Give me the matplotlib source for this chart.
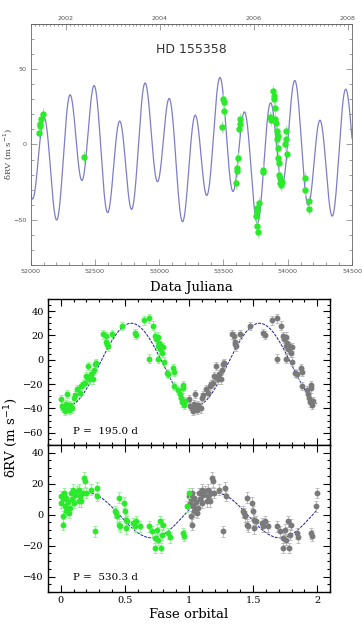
import numpy as np
import matplotlib
matplotlib.use('Agg')
import matplotlib.pyplot as plt
from matplotlib.ticker import MultipleLocator

# --- top panel: RV vs JD-2400000 ---
top_jd = [52065, 52072, 52075, 52080, 52092, 52418, 53491, 53499, 53503, 53505,
          53596, 53604, 53608, 53615, 53623, 53627, 53631, 53752, 53757, 53760,
          53763, 53770, 53778, 53806, 53810, 53865, 53872, 53888, 53892, 53896,
          53900, 53904, 53908, 53913, 53918, 53922, 53926, 53928, 53931, 53933,
          53939, 53941, 53944, 53948, 53952, 53978, 53985, 53988, 53991, 54133,
          54135, 54164, 54168]
top_rv = [7.5, 12, 13.5, 17, 20, -8.5, 11.5, 30, 28, 22,
          -25.5, -17.5, -15.5, -9, 10, 13.5, 17, -47.8, -54.4, -44,
          -42, -57.8, -39, -16.7, -18.5, 18.5, 16.5, 35.5, 32, 30,
          24, 17, 14.5, 9, 3.3, 5.5, -2.2, -8.9, -12, -20,
          -22, -25.6, -24, -27, -25, 0, 8.9, 3.3, -6.5, -22.2,
          -30, -37.8, -43]
top_err = 4.0

# --- phase panels ---
mid_phase = [0.00, 0.01, 0.02, 0.03, 0.04, 0.05, 0.06, 0.07, 0.08, 0.09,
             0.05, 0.10, 0.11, 0.13, 0.15, 0.16, 0.175, 0.185, 0.197, 0.21,
             0.215, 0.23, 0.234, 0.25, 0.26, 0.267, 0.275, 0.332, 0.353, 0.355,
             0.36, 0.37, 0.397, 0.475, 0.58, 0.59, 0.65, 0.69, 0.688, 0.717,
             0.735, 0.74, 0.756, 0.76, 0.765, 0.774, 0.78, 0.792, 0.80, 0.758,
             0.805, 0.826, 0.84, 0.873, 0.88, 0.883, 0.917, 0.93, 0.938, 0.945,
             0.955, 0.95, 0.97, 0.96]
mid_rv = [-32.6, -38, -39.5, -41.7, -36.7, -38, -41, -37, -39, -40,
          -28, -31, -29, -24, -27, -21.7, -19.7, -19, -13.4, -5.2,
          -15, -16, -12, -16, -8, -3.8, -2.5, 20.8, 19.5, 15,
          13, 11, 20.8, 27.7, 22, 20.5, 32.3, 34, 1, 28,
          19.4, 17, 11.2, 19, 14, 9, 11, 5.8, 10.5, 1,
          -1.6, -10.7, -11.5, -6.6, -10, -21.7, -25, -28, -31.3, -35,
          -20.8, -23.5, -34, -37]

bot_phase = [0.002, 0.005, 0.015, 0.02, 0.018, 0.025, 0.03, 0.04, 0.042, 0.05,
             0.055, 0.06, 0.07, 0.08, 0.085, 0.098, 0.104, 0.11, 0.125, 0.14,
             0.145, 0.15, 0.17, 0.16, 0.18, 0.19, 0.197, 0.233, 0.268, 0.28,
             0.285, 0.42, 0.43, 0.44, 0.45, 0.455, 0.46, 0.49, 0.50, 0.505,
             0.51, 0.52, 0.566, 0.58, 0.59, 0.615, 0.685, 0.71, 0.735, 0.737,
             0.748, 0.755, 0.77, 0.78, 0.79, 0.795, 0.84, 0.853, 0.955, 0.963,
             0.988, 0.997]
bot_rv = [11.9, 7.6, -1.1, -6.5, 9.8, 14, 5.4, 2.1, 10.9, 3.2,
          8, 1, 4.3, 14, 9.8, 16.2, 7.6, 13, 15, 8.7,
          16.2, 12, 14, 8.7, 23.8, 21.6, 14, 16.2, -10.8, 17.3,
          12, 2.1, 1, -1.1, -6.5, 10.9, -7.6, 7.6, 2.1, -3.2,
          -8.7, -4.3, -5.4, -7.6, -4.3, -7.6, -7.6, -10.8, -15.1, -21.6,
          -9.8, -16.2, -4.3, -21.6, -13, -6.5, -12, -14.6, -12, -13.7,
          5.4, 14]
ph_err = 3.5

# fitted orbit parameters
P1, K1, TP1, PH1 = 195.0, 34.0, 52107.0, 0.55
P2, K2, TP2, PH2 = 530.3, 14.5, 52950.0, 0.21
V1, V2 = -4.0, 0.0

green = '#2bea2b'
lgreen = '#8ef08e'
gray = '#7a7a7a'
lgray = '#b5b5b5'
curve_top = '#7d7dc8'
curve_ph = '#1a1aa8'


def jd2yr(x):
    return 2000.0 + (np.asarray(x) - 51544.5) / 365.25


def yr2jd(y):
    return 51544.5 + (np.asarray(y) - 2000.0) * 365.25


fig = plt.figure(figsize=(3.62, 6.27), dpi=100)

# ---------------- top panel ----------------
ax = fig.add_axes([0.0848, 0.5774, 0.8876, 0.3844])
t = np.linspace(52000, 54500, 3000)
model = (K1 * np.cos(2 * np.pi * (t - TP1) / P1) + V1
         + K2 * np.cos(2 * np.pi * (t - TP2) / P2) + V2)
ax.plot(t, model, color=curve_top, lw=0.9)
ax.errorbar(top_jd, top_rv, yerr=top_err, fmt='o', ms=3.6, color=green,
            mec=green, ecolor=lgreen, elinewidth=0.6, capsize=0, zorder=3)
ax.set_xlim(52000, 54500)
ax.set_ylim(-80, 80)
ax.xaxis.set_major_locator(MultipleLocator(500))
ax.xaxis.set_minor_locator(MultipleLocator(100))
ax.yaxis.set_major_locator(MultipleLocator(50))
ax.yaxis.set_minor_locator(MultipleLocator(10))
ax.tick_params(which='both', direction='in', right=True, top=False,
               labelsize=4.6, labelcolor='#555555', color='#777777', width=0.5)
ax.tick_params(which='major', length=4, pad=3)
ax.tick_params(which='minor', length=2)
for s in ax.spines.values():
    s.set_color('#666666')
    s.set_linewidth(0.6)
ax.set_ylabel('δRV (m s$^{-1}$)', fontsize=6, color='#444444',
              family='DejaVu Serif')
ax.yaxis.set_label_coords(-0.052, 0.46)
ax.set_xlabel('Data Juliana', fontsize=9.5, family='DejaVu Serif', labelpad=5)
ax.text(0.5, 0.895, 'HD 155358', transform=ax.transAxes, ha='center',
        va='center', fontsize=9, color='#333333')

sec = ax.secondary_xaxis('top', functions=(jd2yr, yr2jd))
sec.set_xticks([2002, 2004, 2006, 2008])
sec.xaxis.set_minor_locator(MultipleLocator(1 / 12))
sec.tick_params(which='both', direction='in', labelsize=4.6,
                labelcolor='#555555', color='#777777', width=0.5, pad=2)
sec.tick_params(which='major', length=4)
sec.tick_params(which='minor', length=1.5)
sec.spines['top'].set_color('#666666')
sec.spines['top'].set_linewidth(0.6)

# ---------------- phase panels ----------------
ax_m = fig.add_axes([0.1326, 0.2903, 0.779, 0.2329])
ax_b = fig.add_axes([0.1326, 0.0558, 0.779, 0.2345])

ph_m = np.linspace(0.0, 2.0, 400)
ax_m.plot(ph_m, K1 * np.cos(2 * np.pi * (ph_m - PH1)) + V1,
          color=curve_ph, lw=0.7, ls=(0, (3, 1.2)), zorder=1)
ph_b = np.linspace(0.04, 2.0, 400)
ax_b.plot(ph_b, K2 * np.cos(2 * np.pi * (ph_b - PH2)) - 0.5,
          color=curve_ph, lw=0.7, ls=(0, (3, 1.2)), zorder=1)

for a, ph, rv in [(ax_m, mid_phase, mid_rv), (ax_b, bot_phase, bot_rv)]:
    ph = np.asarray(ph)
    a.errorbar(ph + 1, rv, yerr=ph_err, fmt='o', ms=3.2, color=gray, mec=gray,
               ecolor=lgray, elinewidth=0.6, capsize=1.2, capthick=0.6, zorder=2)
    a.errorbar(ph, rv, yerr=ph_err, fmt='o', ms=3.2, color=green, mec=green,
               ecolor=lgreen, elinewidth=0.6, capsize=1.2, capthick=0.6, zorder=3)
    a.set_xlim(-0.1, 2.1)
    a.xaxis.set_major_locator(MultipleLocator(0.5))
    a.xaxis.set_minor_locator(MultipleLocator(0.1))
    a.yaxis.set_major_locator(MultipleLocator(20))
    a.yaxis.set_minor_locator(MultipleLocator(5))
    a.tick_params(which='both', direction='in', top=True, right=True,
                  labelsize=7, width=0.8)
    a.tick_params(which='major', length=5, pad=3)
    a.tick_params(which='minor', length=2.5)
    for lab in a.get_xticklabels() + a.get_yticklabels():
        lab.set_family('DejaVu Serif')
    for s in a.spines.values():
        s.set_linewidth(1.0)

ax_m.set_ylim(-70, 50)
ax_b.set_ylim(-50, 45)
ax_m.tick_params(labelbottom=False)
ax_b.set_xticks([0, 0.5, 1, 1.5, 2])
ax_b.set_xticklabels(['0', '0.5', '1', '1.5', '2'], family='DejaVu Serif')

ax_m.text(0.09, 0.095, 'P =  195.0 d', transform=ax_m.transAxes,
          fontsize=7.5, family='DejaVu Serif', va='center')
ax_b.text(0.09, 0.097, 'P =  530.3 d', transform=ax_b.transAxes,
          fontsize=7.5, family='DejaVu Serif', va='center')

ax_b.set_xlabel('Fase orbital', fontsize=9.5, family='DejaVu Serif', labelpad=2)
fig.text(0.03, 0.3014, 'δRV (m s$^{-1}$)', rotation=90, ha='center',
         va='center', fontsize=9.5, family='DejaVu Serif')

fig.savefig('out.png', dpi=100)
